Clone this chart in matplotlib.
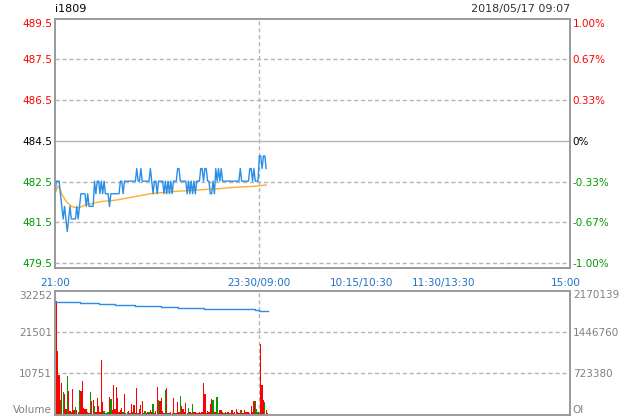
import matplotlib
matplotlib.use("Agg")
import matplotlib.pyplot as plt

title = "i1809"
stamp = "2018/05/17 09:07"
base = 484.6  # 0% line

price_labels = ["479.5", "481.5", "482.5", "484.5", "486.5", "487.5", "489.5"]
pct_labels = ["-1.00%", "-0.67%", "-0.33%", "0%", "0.33%", "0.67%", "1.00%"]
label_colors = ["#009900"] * 3 + ["black"] + ["red"] * 3

time_pos = [0, 150, 225, 285, 375]
time_labels = ["21:00", "23:30/09:00", "10:15/10:30", "11:30/13:30", "15:00"]

# minute prices from 21:00
price = [482.5, 483.0, 483.0, 483.0, 482.5, 482.0, 481.5, 482.0, 481.5, 481.0,
         481.5, 482.0, 481.5, 481.5, 481.5, 481.5, 482.0, 481.5, 482.0, 482.5,
         482.5, 482.5, 482.5, 482.0, 482.5, 482.0, 482.0, 482.0, 482.0, 483.0,
         482.5, 483.0, 483.0, 482.5, 483.0, 482.5, 483.0, 482.5, 482.5, 482.5,
         482.0, 482.5, 482.5, 482.5, 482.5, 482.5, 482.5, 482.5, 483.0, 483.0,
         482.5, 483.0, 483.0, 483.0, 483.0, 483.0, 483.0, 483.0, 483.0, 483.0,
         483.5, 483.0, 483.0, 483.5, 483.0, 483.0, 483.0, 483.0, 483.0, 483.0,
         483.5, 483.0, 482.5, 483.0, 483.0, 482.5, 483.0, 483.0, 483.0, 483.0,
         482.5, 483.0, 482.5, 483.0, 482.5, 483.0, 482.5, 483.0, 483.0, 483.0,
         483.5, 483.5, 483.0, 483.0, 483.0, 483.0, 483.0, 482.5, 483.0, 482.5,
         483.0, 482.5, 483.0, 482.5, 483.0, 483.0, 483.0, 483.5, 483.5, 483.0,
         483.5, 483.5, 483.0, 483.0, 482.5, 482.5, 483.0, 482.5, 483.5, 483.0,
         483.5, 483.0, 483.5, 483.0, 483.0, 483.0, 483.0, 483.0, 483.0, 483.0,
         483.0, 483.0, 483.0, 483.0, 483.0, 483.0, 483.5, 483.0, 483.0, 483.0,
         483.0, 483.0, 483.0, 483.5, 483.5, 483.0, 483.5, 483.0, 483.0, 483.0,
         484.0, 484.0, 483.5, 484.0, 484.0, 483.5]

avg_t = [0, 2, 3, 5, 7, 9, 12, 15, 18, 20, 23, 27, 30, 35, 40, 45, 50, 55, 60,
         65, 70, 75, 80, 90, 100, 110, 120, 130, 140, 148, 152, 155]
avg_v = [482.5, 482.8, 482.75, 482.5, 482.3, 482.15, 482.0, 481.95, 481.95,
         482.0, 482.08, 482.1, 482.15, 482.2, 482.22, 482.25, 482.3, 482.35,
         482.4, 482.45, 482.5, 482.53, 482.55, 482.6, 482.63, 482.67, 482.7,
         482.75, 482.78, 482.8, 482.83, 482.85]

volume = [29500, 16600, 10300, 3900, 8300, 6000, 5400, 1500, 10000, 6100,
          1100, 800, 6700, 1300, 2100, 1200, 700, 6450, 6200, 8770,
          1900, 1500, 1600, 700, 600, 6000, 3500, 3800, 2400, 900,
          4300, 2400, 700, 14300, 3400, 1000, 500, 400, 700, 4700,
          4100, 1200, 7700, 1500, 7300, 4500, 900, 1400, 1700, 800,
          5400, 600, 700, 1100, 500, 2800, 700, 2600, 600, 7000,
          500, 1500, 2600, 3600, 600, 1000, 500, 700, 700, 1400,
          800, 2800, 500, 1100, 7200, 3900, 3600, 4400, 1100, 600,
          6450, 7100, 500, 500, 700, 600, 4400, 600, 500, 3400,
          800, 4800, 2400, 1500, 700, 3100, 600, 1800, 900, 600,
          2800, 700, 900, 500, 600, 900, 600, 700, 8170, 5400,
          600, 950, 700, 2750, 4100, 3900, 700, 900, 4600, 600,
          1400, 1300, 700, 500, 900, 500, 700, 600, 500, 1200,
          600, 700, 1500, 700, 600, 1300, 1300, 600, 1300, 900,
          700, 700, 600, 2400, 900, 3500, 3600, 1500, 800, 600,
          18300, 7740, 3900, 3400, 1400, 600]
vol_side = ("rrrgrgrrgr" "rgrrgrrgrr" "rrrgrgrrgr" "rrrrrggggr"
            "grrrrrrrrg" "rrgrrrgrrr" "grrrrgrrgr" "rgrrrgrrrr"
            "grggrrrgrr" "rgrrrrrgrr" "grrrrrrrrr" "grrrrgrrgg"
            "rrrgrgrggr" "rrrrrgrrrr" "rrrrrrgggr" "rrrgrr")

oi_t = [0, 2, 18, 32, 44, 59, 78, 90, 109, 147, 150, 156]
oi_v = [1975000, 1964500, 1947000, 1929600, 1912200, 1900000, 1882500,
        1865100, 1847700, 1825000, 1807600, 1807600]

vol_ticks = [0, 10751, 21501, 32252]
vol_labels = ["Volume", "10751", "21501", "32252"]
oi_ticks = [0, 723380, 1446760, 2170139]
oi_labels = ["OI", "723380", "1446760", "2170139"]

grid_c = "#b4b4b4"
spine_c = "#9a9a9a"
blue = "#2a8ee6"
orange = "#ffb029"
time_c = "#1f72c4"
gray_t = "#808080"
fs = 7.5

fig = plt.figure(figsize=(6.2, 4.2), dpi=100)
ax = fig.add_axes([55 / 620, 1 - 268 / 420, 515 / 620, 249.4 / 420])
ax2 = ax.twinx()
vx = fig.add_axes([55 / 620, 1 - 415 / 420, 515 / 620, 124.5 / 420])
vx2 = vx.twinx()

top = base * 1.01
bottom = base * 0.99 - 5 / 25.22
tick_vals = [base * (1 + k / 300) for k in range(-3, 4)]

for a in (ax, ax2):
    a.set_xlim(0, 378)
    a.set_ylim(bottom, top)
    a.set_yticks(tick_vals)
    for s in a.spines.values():
        s.set_color(spine_c)
        s.set_linewidth(1.2)
ax.set_yticklabels(price_labels, fontsize=fs)
ax2.set_yticklabels(pct_labels, fontsize=fs)
for a in (ax, ax2):
    for lab, c in zip(a.get_yticklabels(), label_colors):
        lab.set_color(c)
    a.get_yticklabels()[-1].set_va("top")
    a.tick_params(axis="y", length=0, pad=2)

for v in tick_vals[:-1]:
    if abs(v - base) < 1e-6:
        ax.axhline(v, color=grid_c, lw=1, zorder=1)
    else:
        ax.axhline(v, color=grid_c, lw=1, ls=(0, (3, 2)), zorder=1)
# only the night/day boundary gets a vertical line
ax.axvline(time_pos[1], color=grid_c, lw=1, ls=(0, (3, 2)), zorder=1)
vx.axvline(time_pos[1], color=grid_c, lw=1, ls=(0, (3, 2)), zorder=1)

ax.set_xticks(time_pos)
ax.set_xticklabels(time_labels, fontsize=fs, color=time_c)
ax.tick_params(axis="x", length=0, pad=7)

ax.plot(range(len(price)), price, color=blue, lw=1.0, zorder=3)
ax.plot(avg_t, avg_v, color=orange, lw=1.0, zorder=2)

fig.text(55 / 620, 1 - 9 / 420, title, fontsize=8, va="center", ha="left")
fig.text(570 / 620, 1 - 9 / 420, stamp, fontsize=8, va="center", ha="right",
         color="#333333")

# volume panel
cols = ["#ff0000" if s == "r" else "#009900" for s in vol_side]
vx.bar([i + 1 for i in range(len(volume))], volume, width=0.95, color=cols,
       linewidth=0, zorder=2)
vx.set_xlim(0, 378)
vx.set_ylim(0, 32252)
vx.set_yticks(vol_ticks)
vx.set_yticklabels(vol_labels, fontsize=fs, color=gray_t)
vx.set_xticks([])
for v in vol_ticks[1:-1]:
    vx.axhline(v, color=grid_c, lw=1, ls=(0, (3, 2)), zorder=1)

vx2.set_ylim(0, 2170139)
vx2.set_yticks(oi_ticks)
vx2.set_yticklabels(oi_labels, fontsize=fs, color=gray_t)
vx2.step(oi_t, oi_v, where="post", color=blue, lw=1.0, zorder=3)

for a in (vx, vx2):
    for s in a.spines.values():
        s.set_color(spine_c)
        s.set_linewidth(1.2)
    a.tick_params(axis="y", length=0, pad=2)
    labs = a.get_yticklabels()
    labs[0].set_va("bottom")
    labs[-1].set_va("top")

fig.savefig("out.png", dpi=100, facecolor="white")
